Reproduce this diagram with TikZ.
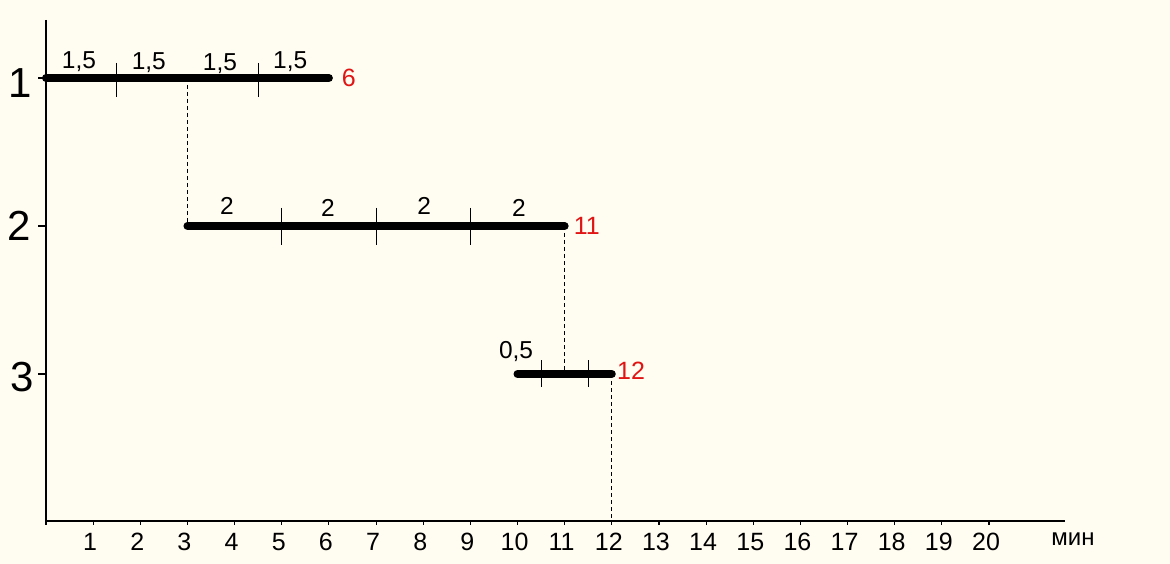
\documentclass[tikz,border=0pt]{standalone}
\usepackage{fontspec}
\setmainfont{Liberation Sans}
\definecolor{bgcol}{RGB}{255,253,242}
\definecolor{lblred}{RGB}{225,20,20}
\tikzset{
  axisline/.style={line width=1.1pt, black},
  barline/.style={line width=8pt, line cap=round, black},
  bartick/.style={line width=1pt, black},
  guide/.style={line width=1pt, black, dash pattern=on 4pt off 3pt},
  ticklbl/.style={inner sep=0pt, font=\fontsize{25}{25}\selectfont},
  seglbl/.style={inner sep=0pt, font=\fontsize{24.5}{24.5}\selectfont},
  endlbl/.style={inner sep=0pt, text=lblred, font=\fontsize{25}{25}\selectfont},
  rowlbl/.style={inner sep=0pt, font=\fontsize{42}{42}\selectfont},
}
\begin{document}
\begin{tikzpicture}[x=1pt,y=-1pt]
\fill[bgcol] (0,0) rectangle (1170,564);
\useasboundingbox (0,0) rectangle (1170,564);
\begin{scope}[xshift=46pt, x=47.15pt]
  % axes
  \coordinate (o) at (0,521);
  \coordinate (ytop) at (0,20);
  \coordinate (xend) at (21.61,521);
  \draw[axisline] (ytop) -- (o) -- (xend);
  \foreach \i in {0,...,20} {
    \draw[axisline] (\i,521) -- (\i,525);
  }
  \foreach \i in {1,...,20} {
    \node[ticklbl] (t\i) at ([xshift=-3pt]\i,542) {\i};
  }
  \node[ticklbl, font=\fontsize{24}{24}\selectfont] (unit) at (21.78,539) {мин};
  % y ticks and row labels
  \foreach \r/\yy in {1/78,2/226,3/374} {
    \draw[axisline] (0,\yy) -- ++(-8pt,0pt);
  }
  \node[rowlbl] (r1) at (-0.54,83) {1};
  \node[rowlbl] (r2) at (-0.57,226) {2};
  \node[rowlbl] (r3) at (-0.51,377) {3};
  % bar end points
  \coordinate (a1) at (0,78);   \coordinate (b1) at (6,78);
  \coordinate (a2) at (3,226);  \coordinate (b2) at (11,226);
  \coordinate (a3) at (10,374); \coordinate (b3) at (12,374);
  \coordinate (c1) at (3,78);
  \coordinate (c3) at (11,374);
  \coordinate (c4) at (12,521);
  % guides
  \draw[guide] (c1) -- (a2);
  \draw[guide] (b2) -- (c3);
  \draw[guide] (b3) -- (c4);
  % bars
  \draw[barline] (a1) -- (b1);
  \draw[barline] (a2) -- (b2);
  \draw[barline] (a3) -- (b3);
  % bar ticks
  \foreach \xx in {1.5,4.5} { \draw[bartick] (\xx,63) -- (\xx,97); }
  \foreach \xx in {5,7,9} { \draw[bartick] (\xx,208) -- (\xx,245); }
  \foreach \xx in {10.5,11.5} { \draw[bartick] (\xx,360) -- (\xx,387); }
  % segment labels
  \node[seglbl] (s11) at (0.70,62) {1,5};
  \node[seglbl] (s12) at (2.18,63) {1,5};
  \node[seglbl] (s13) at (3.69,64) {1,5};
  \node[seglbl] (s14) at (5.18,62) {1,5};
  \node[seglbl] (s21) at (3.84,206) {2};
  \node[seglbl] (s22) at (5.98,208) {2};
  \node[seglbl] (s23) at (8.02,206) {2};
  \node[seglbl] (s24) at (10.03,208) {2};
  \node[seglbl] (s31) at (9.97,352) {0,5};
  % end labels
  \node[endlbl] (e1) at (6.42,78) {6};
  \node[endlbl] (e2) at (11.47,226) {11};
  \node[endlbl] (e3) at (12.41,371) {12};
\end{scope}
\end{tikzpicture}
\end{document}
